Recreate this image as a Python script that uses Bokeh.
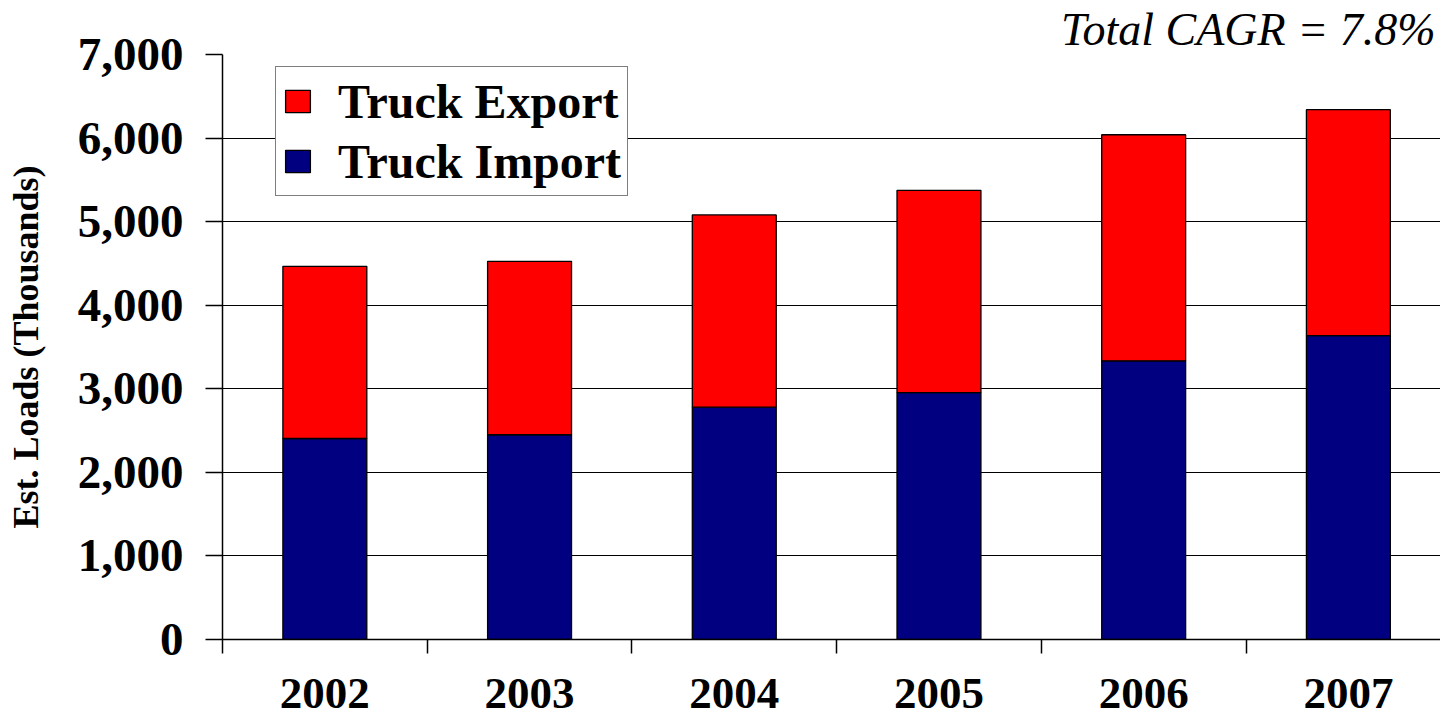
import numpy as np
from bokeh.plotting import figure
from bokeh.models import (Range1d, FixedTicker, NumeralTickFormatter, Legend,
                          LegendItem, Title, ColumnDataSource)
from bokeh.embed import file_html
from bokeh.resources import INLINE

years = ["2002", "2003", "2004", "2005", "2006", "2007"]
truck_import = [2405, 2450, 2780, 2955, 3335, 3635]
truck_export = [2060, 2075, 2300, 2420, 2705, 2705]
y_ticks = [0, 1000, 2000, 3000, 4000, 5000, 6000, 7000]
cagr_text = "Total CAGR = 7.8%"

FONT = "Liberation Serif"

x_pos = np.arange(len(years)) + 0.5
imp = np.array(truck_import)
tot = imp + np.array(truck_export)

src = ColumnDataSource(dict(x=x_pos, imp=imp, tot=tot))

p = figure(width=1440, height=718, output_backend="svg", toolbar_location=None,
           x_range=Range1d(0, 5.95), y_range=Range1d(0, 7000),
           min_border_left=222, min_border_top=54, min_border_bottom=79,
           min_border_right=0)
p.outline_line_color = None
p.background_fill_color = "white"
p.border_fill_color = "white"

r_imp = p.vbar(x="x", bottom=0, top="imp", width=0.41, source=src,
               fill_color="#000080", line_color="black", line_width=1.3)
r_exp = p.vbar(x="x", bottom="imp", top="tot", width=0.41, source=src,
               fill_color="#FF0000", line_color="black", line_width=1.3)

# grid
p.xgrid.grid_line_color = None
p.ygrid.ticker = FixedTicker(ticks=y_ticks)
p.ygrid.grid_line_color = "black"
p.ygrid.grid_line_width = 1.2

# y axis
ya = p.yaxis[0]
ya.ticker = FixedTicker(ticks=y_ticks)
ya.formatter = NumeralTickFormatter(format="0,0")
ya.axis_line_color = "black"
ya.axis_line_width = 1.5
ya.major_tick_line_color = "black"
ya.major_tick_line_width = 1.5
ya.major_tick_out = 17
ya.major_tick_in = 0
ya.minor_tick_line_color = None
ya.major_label_standoff = 22
ya.major_label_text_font = FONT
ya.major_label_text_font_style = "bold"
ya.major_label_text_font_size = "47px"
ya.major_label_text_color = "black"
ya.axis_label = "Est. Loads (Thousands)"
ya.axis_label_text_font = FONT
ya.axis_label_text_font_style = "bold"
ya.axis_label_text_font_size = "36px"
ya.axis_label_text_color = "black"
ya.axis_label_standoff = 29

# x axis
xa = p.xaxis[0]
xa.ticker = FixedTicker(ticks=list(x_pos), minor_ticks=list(range(len(years) + 1)))
xa.major_label_overrides = {float(x): y for x, y in zip(x_pos, years)}
xa.axis_line_color = "black"
xa.axis_line_width = 1.5
xa.major_tick_line_color = None
xa.major_tick_out = 0
xa.major_tick_in = 0
xa.minor_tick_line_color = "black"
xa.minor_tick_line_width = 1.5
xa.minor_tick_out = 14
xa.minor_tick_in = 0
xa.major_label_standoff = 25
xa.major_label_text_font = FONT
xa.major_label_text_font_style = "bold"
xa.major_label_text_font_size = "45px"
xa.major_label_text_line_height = 1.0
xa.major_label_text_color = "black"

legend = Legend(items=[LegendItem(label="Truck Export", renderers=[r_exp]),
                       LegendItem(label="Truck Import", renderers=[r_imp])],
                location=(53, 443),
                label_text_font=FONT, label_text_font_style="bold",
                label_text_font_size="48px", label_text_color="black",
                glyph_width=31, glyph_height=28, label_height=56,
                label_standoff=25, padding=6, spacing=4,
                border_line_color="black", border_line_width=1.3,
                background_fill_color="white", background_fill_alpha=1.0)
p.add_layout(legend)

title = Title(text=cagr_text, align="right", text_font=FONT,
              text_font_style="italic", text_font_size="46px",
              text_color="black", standoff=0, offset=5,
              text_line_height=1.0)
p.add_layout(title, "above")

open("out.html", "w").write(file_html(p, INLINE))
